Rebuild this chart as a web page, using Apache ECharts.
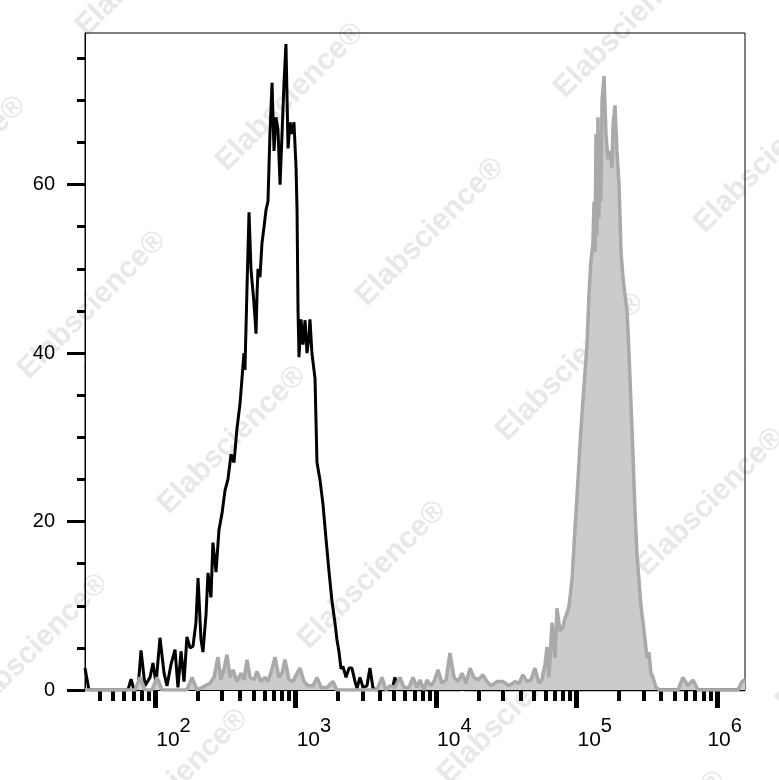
<!DOCTYPE html>
<html><head><meta charset="utf-8">
<script src="https://cdn.jsdelivr.net/npm/echarts@6/dist/echarts.min.js"></script>
<style>html,body{margin:0;padding:0;background:#fff}#c{width:779px;height:780px}</style>
</head><body><div id="c"></div>
<script>
// Black (unfilled) histogram: x in log10 units, y = count
const blackLogX = [1.500,1.528,1.806,1.828,1.849,1.877,1.899,1.927,1.963,1.984,2.006,2.034,2.063,2.084,2.112,2.141,2.162,2.184,2.205,2.226,2.248,2.269,2.290,2.305,2.326,2.340,2.362,2.376,2.397,2.411,2.433,2.454,2.476,2.497,2.518,2.540,2.561,2.582,2.604,2.618,2.632,2.639,2.654,2.668,2.682,2.689,2.703,2.718,2.725,2.732,2.746,2.760,2.775,2.789,2.803,2.817,2.832,2.846,2.860,2.874,2.889,2.903,2.917,2.931,2.946,2.960,2.974,2.988,3.003,3.010,3.017,3.024,3.038,3.052,3.067,3.081,3.095,3.102,3.116,3.138,3.152,3.173,3.195,3.216,3.238,3.259,3.280,3.294,3.309,3.323,3.337,3.359,3.380,3.401,3.423,3.437,3.458,3.480,3.508,3.529,3.551,3.579,3.686,3.707,3.729,4.170,4.185,4.199,6.200];
const blackCounts = [2.6,0,0,1.3,0,0,4.7,0.5,1.5,3.2,0.8,6.2,2,0.5,3,4.8,0.3,4.6,1,6.3,5,5.2,8,13.3,6,4.5,9,13.9,11,17.5,14,19,21,23.7,25,28,27,31,34,37,40,38,48,56.7,50,48.6,46,42.3,47,50,49,53,55,57,58,66,72.1,64,68,66.6,60,66,72,76.7,64.3,67.4,66,67.4,62,57,45,39.5,44,41,43.9,40,42,44,40,37,27,25,22,18,14,10.5,8,6,4.5,2.5,2.8,1.5,2.6,2.6,1,0.2,1.5,0.3,0.5,2.6,0.2,0,0,1.5,0,0,1,0,0];

// Gray (filled) histogram
const grayLogX = [1.500,1.856,1.892,1.927,1.977,2.013,2.048,2.226,2.262,2.298,2.390,2.419,2.447,2.468,2.490,2.511,2.533,2.554,2.582,2.611,2.632,2.654,2.675,2.703,2.725,2.753,2.782,2.803,2.832,2.853,2.881,2.903,2.924,2.953,2.981,3.010,3.031,3.059,3.088,3.124,3.152,3.181,3.223,3.266,3.294,3.579,3.615,3.643,3.672,3.707,3.743,3.772,3.807,3.836,3.864,3.886,3.914,3.935,3.964,3.985,4.014,4.042,4.071,4.099,4.128,4.156,4.185,4.213,4.242,4.270,4.299,4.334,4.363,4.391,4.434,4.477,4.519,4.562,4.591,4.619,4.648,4.676,4.704,4.733,4.754,4.776,4.790,4.804,4.826,4.847,4.861,4.883,4.904,4.918,4.932,4.947,4.968,4.989,5.011,5.032,5.053,5.075,5.089,5.103,5.117,5.125,5.132,5.139,5.146,5.153,5.160,5.167,5.174,5.182,5.196,5.210,5.224,5.239,5.253,5.260,5.274,5.288,5.303,5.317,5.331,5.345,5.360,5.374,5.388,5.402,5.417,5.431,5.445,5.459,5.474,5.488,5.502,5.516,5.530,5.545,5.566,5.595,5.723,5.758,5.794,5.830,5.865,6.150,6.179,6.200];
const grayCounts = [0,0,1.5,0,0,1.5,0,0,1.5,0,0.8,1.5,3.9,1.2,2.5,4.2,1.5,2.4,1,2,1.2,3.6,1.5,1.2,2.2,1,1.5,1,2.5,3.9,1.5,2,3.6,1.2,1,2,2.6,1,0.5,0.5,1.5,0.3,0.3,1.0,0,0,1.5,0,0.5,0.3,1.5,0.3,0.3,1.5,0.3,1.2,0,1.2,0.5,1.0,2.4,0.8,1.2,4.4,1.5,1,2,0.8,2.6,1.5,1.2,1.8,1.0,0.5,1,1,0.5,1.0,0.8,1.8,1.0,1.2,2.6,0.8,1.2,3,5.1,1.5,8,3.8,9.7,7,7.5,8.5,9.1,10,13,19,25,31,36,41,47,51,53,58,52,66,54,68,56,66,58,70,72.9,66,63,64,62,67,69.4,64,60,52,49,47,45,40,34,28,21,16,13,10,8,6,3.8,4.5,2,1.5,0.3,0,0,1.5,0.5,1.2,0,0,1.0,1.2];

const xDecades = [2, 3, 4, 5, 6];
const yMajorTicks = [0, 20, 40, 60];
const yMinorTicks = [5, 10, 15, 25, 30, 35, 45, 50, 55, 65, 70, 75];
const watermarkText = 'Elabscience®';

const X_MIN = 1.5, X_MAX = 6.2, Y_MAX = 78;

const xMinor = [];
for (let n = 1; n <= 6; n++) for (let k = 2; k <= 9; k++) {
  const v = Math.log10(k * Math.pow(10, n));
  if (v > X_MIN && v < X_MAX) xMinor.push(v);
}
const labelPos = xDecades.map(d => Math.min(d + 0.13, X_MAX - 0.145));

const blackData = blackLogX.map((x, i) => [x, blackCounts[i]]);
const grayData = grayLogX.map((x, i) => [x, grayCounts[i]]);

const wmPos = [[150,-38],[290,97],[430,232],[570,367],[710,502],[850,637],
  [-48,170],[92,305],[232,440],[372,575],[512,710],[652,845],
  [34,648],[174,783],[628,24],[768,159],[908,294]];
const graphics = wmPos.map(p => ({
  type: 'text', x: p[0], y: p[1], rotation: Math.PI / 4, z: -10, silent: true,
  style: { text: watermarkText, fill: '#e8e8e8', font: 'bold 30px "Liberation Sans", Arial, sans-serif',
    align: 'center', verticalAlign: 'middle', textAlign: 'center', textVerticalAlign: 'middle' }
}));

const FONT = '"Liberation Sans", Arial, sans-serif';
const chart = echarts.init(document.getElementById('c'), null, { renderer: 'canvas' });
chart.setOption({
  animation: false,
  backgroundColor: '#fff',
  graphic: graphics,
  grid: { left: 85, right: 34, top: 33, bottom: 90, show: true, borderColor: '#000', borderWidth: 1, backgroundColor: 'transparent' },
  xAxis: [
    { type: 'value', min: X_MIN, max: X_MAX, position: 'bottom',
      axisLine: { show: true, onZero: false, lineStyle: { color: '#000', width: 1 } },
      axisTick: { show: true, customValues: xDecades, length: 18, lineStyle: { color: '#000', width: 5 } },
      axisLabel: { show: false }, splitLine: { show: false } },
    { type: 'value', min: X_MIN, max: X_MAX, position: 'bottom',
      axisLine: { show: false },
      axisTick: { show: true, customValues: xMinor, length: 11, lineStyle: { color: '#000', width: 4 } },
      axisLabel: { show: false }, splitLine: { show: false } },
    { type: 'value', min: X_MIN, max: X_MAX, position: 'bottom',
      axisLine: { show: false }, axisTick: { show: false }, splitLine: { show: false },
      axisLabel: { show: true, customValues: labelPos, margin: 26,
        formatter: v => '{b|10}{s|' + Math.floor(v + 1e-9) + '}',
        rich: {
          b: { fontSize: 21, fontFamily: FONT, color: '#000' },
          s: { fontSize: 20, fontFamily: FONT, color: '#000', padding: [0, 0, 28, 0] }
        } } }
  ],
  yAxis: [
    { type: 'value', min: 0, max: Y_MAX, position: 'left',
      axisLine: { show: true, onZero: false, lineStyle: { color: '#000', width: 1 } },
      axisTick: { show: true, customValues: yMajorTicks, length: 18, lineStyle: { color: '#000', width: 3 } },
      axisLabel: { show: true, customValues: yMajorTicks, margin: 30, fontSize: 20, fontFamily: FONT, color: '#000' },
      splitLine: { show: false } },
    { type: 'value', min: 0, max: Y_MAX, position: 'left',
      axisLine: { show: false },
      axisTick: { show: true, customValues: yMinorTicks, length: 8, lineStyle: { color: '#000', width: 3 } },
      axisLabel: { show: false }, splitLine: { show: false } }
  ],
  series: [
    { type: 'line', name: 'black', xAxisIndex: 0, yAxisIndex: 0, data: blackData, symbol: 'none', z: 3,
      lineStyle: { color: '#000', width: 3 } },
    { type: 'line', name: 'gray', xAxisIndex: 0, yAxisIndex: 0, data: grayData, symbol: 'none', z: 4,
      lineStyle: { color: '#a9a9a9', width: 3.5 }, areaStyle: { color: '#cbcbcb', opacity: 1 } }
  ]
});
</script>
</body></html>
